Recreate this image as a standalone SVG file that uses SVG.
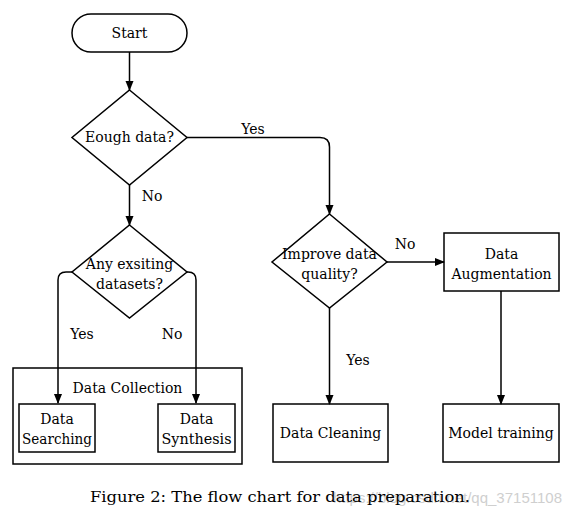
<svg xmlns="http://www.w3.org/2000/svg" width="570" height="517" viewBox="0 0 570 517">
<defs>
<style>
.s{fill:#fff;stroke:#000;stroke-width:1.5}
.t{font-family:"DejaVu Serif",serif;font-size:14px;fill:#000;text-anchor:middle}
.c{fill:none;stroke:#000;stroke-width:1.5}
.cap{font-family:"DejaVu Serif",serif;font-size:14px;fill:#000;text-anchor:middle}
.wm{font-family:"Liberation Sans",Arial,sans-serif;font-size:15px;fill:#cfcfcf;text-anchor:end}
</style>
<marker id="ah" markerWidth="10" markerHeight="10" refX="9" refY="4" orient="auto" markerUnits="userSpaceOnUse">
<path d="M0,0 L10,4 L0,8 Z" fill="#000"/>
</marker>
</defs>
<rect width="570" height="517" fill="#fff"/>
<g id="start">
<rect class="s" x="72" y="14" width="115" height="38" rx="19" ry="19"/>
<text class="t" x="129.5" y="38">Start</text>
</g>
<g id="enough">
<polygon class="s" points="129.5,90 187,137.5 129.5,185 72,137.5"/>
<text class="t" x="129.5" y="142">Eough data?</text>
</g>
<g id="existing">
<polygon class="s" points="129.5,225 187,272 129.5,318 72,272"/>
<text class="t" x="129.5" y="269">Any exsiting</text>
<text class="t" x="129.5" y="289">datasets?</text>
</g>
<g id="collection">
<rect class="s" x="13" y="368" width="229" height="96"/>
<text class="t" x="127.5" y="393">Data Collection</text>
</g>
<g id="searching">
<rect class="s" x="19" y="404" width="76" height="48"/>
<text class="t" x="57" y="424">Data</text>
<text class="t" x="57" y="444" textLength="70" lengthAdjust="spacingAndGlyphs">Searching</text>
</g>
<g id="synthesis">
<rect class="s" x="158" y="404" width="77" height="48"/>
<text class="t" x="196.5" y="424">Data</text>
<text class="t" x="196.5" y="444" textLength="70" lengthAdjust="spacingAndGlyphs">Synthesis</text>
</g>
<g id="improve">
<polygon class="s" points="329.5,214 387,262 329.5,308 272,262"/>
<text class="t" x="329.5" y="259">Improve data</text>
<text class="t" x="329.5" y="279">quality?</text>
</g>
<g id="augmentation">
<rect class="s" x="444" y="233" width="115" height="58"/>
<text class="t" x="501.5" y="259">Data</text>
<text class="t" x="501.5" y="279">Augmentation</text>
</g>
<g id="cleaning">
<rect class="s" x="273" y="404" width="115" height="58"/>
<text class="t" x="330.5" y="438">Data Cleaning</text>
</g>
<g id="training">
<rect class="s" x="443" y="404" width="116" height="58"/>
<text class="t" x="501" y="438">Model training</text>
</g>
<g id="connectors">
<path class="c" d="M129.5,52 V90" marker-end="url(#ah)"/>
<path class="c" d="M187,137.5 H320 Q329.5,137.5 329.5,147 V214" marker-end="url(#ah)"/>
<path class="c" d="M129.5,185 V225" marker-end="url(#ah)"/>
<path class="c" d="M72,272 H66 Q58,272 58,280 V403" marker-end="url(#ah)"/>
<path class="c" d="M187,272 H188 Q196,272 196,280 V403" marker-end="url(#ah)"/>
<path class="c" d="M387,262 H444" marker-end="url(#ah)"/>
<path class="c" d="M329.5,308 V404" marker-end="url(#ah)"/>
<path class="c" d="M501,291 V404" marker-end="url(#ah)"/>
<text class="t" x="253" y="134">Yes</text>
<text class="t" x="152" y="201">No</text>
<text class="t" x="82" y="339">Yes</text>
<text class="t" x="172" y="339">No</text>
<text class="t" x="405" y="249">No</text>
<text class="t" x="358" y="365">Yes</text>
</g>
<g id="caption">
<text class="wm" x="562" y="503">https://blog.csdn.net/qq_37151108</text>
<text class="cap" x="280" y="502" textLength="380" lengthAdjust="spacingAndGlyphs">Figure 2: The flow chart for data preparation.</text>
</g>
</svg>
